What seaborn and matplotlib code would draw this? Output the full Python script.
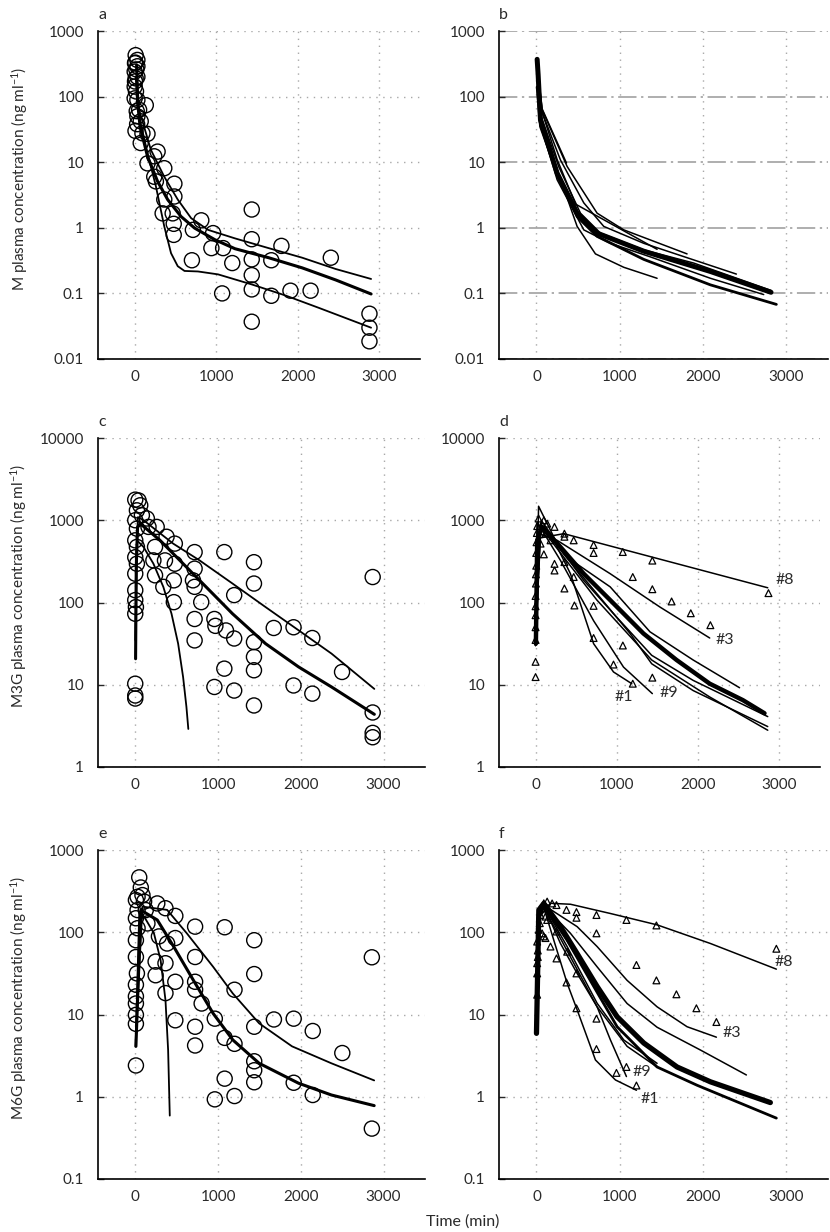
import matplotlib
matplotlib.use("Agg")
import matplotlib.pyplot as plt
import seaborn as sns

# ---------------- panel a : morphine, observed + percentiles
a_obs_t = [12, 33, 4, 33, 0, 33, 12, 0, 0, 33, 136, 54, 33, 74, 95, 157, 74, 157, 281, 240,
           363, 240, 260, 487, 363, 487, 343, 466, 479, 479, 714, 817, 702, 962, 941, 1085,
           1197, 1073, 1436, 1436, 1436, 1436, 1436, 1436, 1676, 1676, 1800, 1911, 2158, 2406,
           2880, 2880, 2880, 8, 20, 4, 16, 25, 30, 10]
a_obs_c = [428, 362, 323, 290, 240, 200, 190, 142, 94, 89, 74, 63, 50, 42, 27.6, 27, 19.6, 9.6,
           14.5, 12.3, 8.1, 6.0, 5.1, 4.7, 2.7, 3.0, 1.66, 1.66, 1.15, 0.78, 0.93, 1.3, 0.32,
           0.83, 0.49, 0.49, 0.29, 0.1, 1.9, 0.67, 0.33, 0.19, 0.115, 0.037, 0.32, 0.092, 0.53,
           0.11, 0.11, 0.35, 0.049, 0.030, 0.0186, 330, 260, 170, 120, 60, 38, 30]
a_med_t = [25, 33, 66, 157, 281, 404, 570, 735, 982, 1230, 1643, 2055, 2468, 2900]
a_med_c = [303, 89, 35, 12.3, 5.1, 2.7, 1.48, 0.99, 0.66, 0.48, 0.35, 0.245, 0.16, 0.098]
a_hi_t = [20, 54, 198, 363, 528, 693, 900, 1230, 1643, 2055, 2468, 2900]
a_hi_c = [300, 63, 15.5, 6.0, 2.7, 1.4, 0.93, 0.69, 0.49, 0.35, 0.235, 0.166]
a_lo_t = [12, 54, 157, 260, 363, 446, 528, 611, 776, 1023, 1436, 1849, 2262, 2900]
a_lo_c = [200, 50, 13.8, 4.3, 1.05, 0.41, 0.26, 0.22, 0.216, 0.195, 0.137, 0.093, 0.06, 0.030]

# ---------------- panel b : morphine, individual fits
b1_t = [8, 68, 360]
b1_c = [300, 65, 9.7]
b2_t = [8, 56, 248, 468, 1448]
b2_c = [340, 65, 11, 2.3, 0.47]
b3_t = [8, 68, 368, 728, 1048, 1808]
b3_c = [286, 63, 8.6, 1.67, 0.93, 0.40]
b4_t = [8, 56, 288, 568, 808, 1288, 2400]
b4_c = [302, 63, 10.8, 2.4, 1.05, 0.58, 0.197]
b5_t = [8, 48, 208, 488, 708, 1048, 1448]
b5_c = [200, 50, 10.8, 1.05, 0.40, 0.25, 0.17]
b6_t = [8, 48, 248, 488, 728, 1288, 2088, 2880]
b6_c = [141, 35, 6.8, 1.48, 0.74, 0.33, 0.135, 0.068]
b7_t = [8, 56, 268, 528, 768, 1288, 1888, 2816]
b7_c = [256, 50, 8.5, 1.67, 0.83, 0.46, 0.29, 0.111]
b8_t = [8, 56, 248, 568, 888, 1368, 2088, 2728]
b8_c = [178, 35, 5.4, 0.93, 0.58, 0.36, 0.17, 0.096]
b_med_t = [8, 20, 48, 248, 488, 728, 1288, 2088, 2816]
b_med_c = [370, 214, 44, 6.8, 1.67, 0.83, 0.44, 0.216, 0.104]

# ---------------- panel c : M3G, observed + percentiles
c_obs_t = [0, 40, 60, 20, 80, 140, 0, 20, 160, 0, 20, 0, 20, 0, 0, 0, 8, 0, 0, 0, 0,
           259, 239, 219, 239, 359, 378, 339, 478, 478, 466, 466, 717, 717, 697, 717, 717, 717,
           797, 956, 968, 956, 1076, 1076, 1096, 1195, 1195, 1195, 1434, 1434, 1434, 1434,
           1434, 1434, 1673, 1912, 1912, 2139, 2139, 2498, 2868, 2868, 2868, 2868]
c_obs_c = [1780, 1740, 1520, 1320, 1150, 1050, 1000, 790, 830, 570, 474, 355, 296, 224, 141,
           107, 88, 73, 10.3, 7.4, 6.8,
           830, 474, 325, 214, 325, 630, 155, 520, 296, 186, 101, 410, 258, 186, 155, 63, 34.6,
           101, 63, 52, 9.4, 410, 15.7, 45.7, 123, 36.5, 8.5, 309, 170, 33, 21.8, 15, 5.6,
           49, 50, 9.8, 37, 7.8, 14.3, 204, 4.6, 2.6, 2.3]
c_med_t = [4, 12, 28, 60, 299, 618, 936, 1175, 1574, 1972, 2371, 2888]
c_med_c = [20.7, 270, 830, 910, 570, 270, 128, 73, 31.6, 16.5, 9.4, 4.37]
c_hi_t = [8, 16, 32, 100, 458, 777, 1175, 1574, 1972, 2371, 2888]
c_hi_c = [31.6, 430, 1090, 1000, 520, 325, 170, 88, 46, 23.9, 8.9]
c_lo_t = [0, 20, 100, 219, 339, 438, 518, 578, 618, 641]
c_lo_c = [35, 570, 473, 297, 155, 73, 31.6, 12.4, 5.4, 2.9]

# ---------------- panel d : M3G, individual fits
d8_t = [0, 20, 347, 2857]
d8_c = [30, 600, 687, 151]
d3_t = [0, 20, 265, 918, 1531, 2143]
d3_c = [30, 700, 570, 224, 88, 37]
d1_t = [0, 20, 184, 429, 714, 959, 1184]
d1_c = [30, 900, 687, 224, 31.6, 14.3, 10.3]
d9_t = [0, 20, 306, 714, 1082, 1437]
d9_c = [30, 950, 325, 60, 16.4, 7.8]
dA_t = [4, 37, 265, 592, 1000, 1429, 1939, 2857]
dA_c = [42, 1480, 519, 186, 66, 22.8, 11.3, 4.1]
dB_t = [4, 69, 388, 918, 1408, 1939, 2510]
dB_c = [42, 1000, 355, 155, 44, 20, 9.2]
dC_t = [4, 61, 347, 755, 1163, 1429, 1939, 2857]
dC_c = [42, 910, 386, 128, 42, 18, 8.5, 3.1]
dD_t = [4, 61, 347, 755, 1429, 2143, 2857]
dD_c = [42, 830, 355, 107, 20, 7.1, 2.8]
d_med_t = [4, 20, 82, 306, 592, 918, 1327, 1735, 2143, 2551, 2817]
d_med_c = [31.6, 570, 830, 473, 224, 107, 42, 20, 10.3, 6.5, 4.5]

d_obs_t = [0, 0, 0, 0, 0, 0, 0, 4, 4, 8, 8, 12, 16, 20,
           37, 102, 143, 233, 122, 184, 61, 102, 233, 355, 355,
           355, 469, 714, 1073, 1437, 2866,
           714, 1196, 1437, 1674, 1910, 2151,
           233, 355, 478, 714, 959, 1196,
           469, 714, 1074, 1437]
d_obs_c = [12.4, 19, 35, 50, 70, 90, 120, 170, 220, 280, 400, 540, 700, 850,
           1050, 1000, 910, 830, 690, 570, 520, 385, 295, 630, 310,
           687, 570, 500, 411, 323, 130,
           400, 204, 145, 103, 74, 53,
           245, 148, 92, 37, 17.6, 10.3,
           204, 91, 30, 12.2]
d_lab = ["#8", "#3", "#1", "#9"]
d_lab_t = [2959, 2216, 967, 1523]
d_lab_c = [186, 34.8, 7.1, 7.95]

# ---------------- panel e : M6G, observed + percentiles
e_obs_t = [48, 67, 28, 87, 8, 107, 28, 127, 8, 28, 8, 8, 20, 8, 8, 8, 8, 8, 8,
           147, 266, 286, 365, 484, 385, 246, 246, 365, 365, 484, 484, 484,
           723, 723, 723, 723, 802, 723, 723, 961, 961, 1080, 1080, 1080, 1199, 1199, 1199,
           1437, 1437, 1437, 1437, 1437, 1437, 1675, 1914, 1914, 2144, 2144, 2501, 2858, 2858]
e_obs_c = [465, 350, 270, 283, 246, 236, 186, 186, 148, 112, 80, 50, 31.6, 23, 16.6, 13.6,
           9.9, 7.7, 2.4,
           128, 224, 89, 196, 158, 73, 44, 30, 42, 18.2, 85, 25, 8.5,
           117, 50, 25, 20, 13.6, 7.1, 4.2, 8.9, 0.93, 115, 5.2, 1.66, 20, 4.4, 1.02,
           80, 31, 7.1, 2.7, 2.1, 1.5, 8.7, 8.9, 1.48, 6.3, 1.05, 3.4, 49.6, 0.41]
e_med_t = [8, 67, 266, 464, 703, 941, 1179, 1497, 1973, 2370, 2886]
e_med_c = [4.1, 186, 141, 67, 26, 10.3, 4.9, 2.55, 1.46, 1.05, 0.78]
e_hi_t = [8, 87, 385, 623, 941, 1179, 1497, 1894, 2370, 2886]
e_hi_c = [6, 205, 187, 97, 38, 18, 7.8, 4.1, 2.55, 1.58]
e_lo_t = [4, 48, 107, 226, 306, 365, 397, 417]
e_lo_c = [4.1, 170, 155, 97, 46, 15, 3.7, 0.59]

# ---------------- panel f : M6G, individual fits
f8_t = [0, 30, 168, 408, 888, 1448, 2088, 2880]
f8_c = [6, 150, 225, 219, 169, 123, 73, 35.6]
f3_t = [0, 30, 100, 488, 728, 1088, 1448, 1808, 2160]
f3_c = [6, 150, 210, 117, 67, 26, 12.4, 7.1, 5.3]
f1_t = [0, 30, 88, 208, 368, 488, 708, 948, 1200]
f1_c = [6, 150, 200, 80, 24, 11.4, 2.8, 1.6, 1.2]
f9_t = [0, 30, 88, 288, 488, 728, 888, 1080]
f9_c = [6, 150, 210, 73, 31.6, 12.4, 4.9, 1.76]
fA_t = [0, 30, 88, 408, 728, 1088, 1448, 1968, 2520]
fA_c = [6, 150, 210, 97, 38, 13.6, 7.0, 3.7, 1.84]
fB_t = [0, 30, 88, 368, 688, 968, 1448, 1928, 2880]
fB_c = [6, 150, 210, 80, 21.9, 7.1, 2.3, 1.38, 0.55]
fC_t = [0, 30, 88, 368, 728, 1048, 1448]
fC_c = [6, 150, 210, 67, 13.7, 4.9, 2.55]
fD_t = [0, 30, 88, 408, 728, 1088, 1448]
fD_c = [6, 150, 200, 50, 12.4, 4.1, 2.3]
f_med_t = [0, 28, 88, 288, 488, 728, 968, 1288, 1688, 2088, 2488, 2808]
f_med_c = [5.9, 186, 224, 117, 55, 21.9, 9.4, 4.5, 2.3, 1.52, 1.1, 0.85]

f_obs_t = [8, 8, 8, 16, 16, 8, 28, 40, 48, 68, 88, 128, 188, 108, 128, 68, 88, 108,
           240, 360, 480, 480, 720, 1080, 1440, 2880,
           720, 1200, 1440, 1680, 1920, 2160,
           168, 240, 360, 480, 720, 960, 1200,
           240, 368, 480, 720, 1080]
f_obs_c = [17.4, 31.6, 42, 50, 60, 77, 107, 129, 162, 195, 225, 236, 224, 155, 141, 97, 89, 85,
           214, 187, 176, 150, 162, 141, 121, 63,
           97, 40, 26, 17.6, 11.9, 8.1,
           67, 48, 24.5, 11.9, 3.8, 1.95, 1.37,
           102, 58, 31.6, 8.9, 2.3]
f_lab = ["#8", "#3", "#9", "#1"]
f_lab_t = [2860, 2240, 1148, 1248]
f_lab_c = [43, 5.9, 2.0, 0.93]

# ---------------- style
sns.set_theme(style="white")
plt.rcParams["font.family"] = ["Lato", "DejaVu Sans"]
plt.rcParams["mathtext.fontset"] = "custom"
plt.rcParams["mathtext.rm"] = "Lato"
plt.rcParams["mathtext.it"] = "Lato:italic"

TXT = "#2a2a2a"
GRID = "#a8a8a8"

fig = plt.figure(figsize=(8.3, 12.32), dpi=100)
W, H = 830, 1232


def make_ax(left, top, right, bottom):
    return fig.add_axes([left / W, 1 - bottom / H, (right - left) / W, (bottom - top) / H])


def style_ax(ax, ymin, ymax, label, ylabel=None, dashdot=False):
    ax.set_yscale("log")
    ax.set_xlim(-450, 3500)
    ax.set_ylim(ymin, ymax)
    decs = []
    v = ymin
    while v <= ymax * 1.001:
        decs.append(v)
        v *= 10
    ax.set_yticks(decs)
    ax.set_yticklabels([f"{d:g}" for d in decs])
    ax.minorticks_off()
    ax.set_xticks([0, 1000, 2000, 3000])
    ax.set_xticklabels(["0", "1000", "2000", "3000"])
    for s in ["top", "right"]:
        ax.spines[s].set_visible(False)
    for s in ["left", "bottom"]:
        ax.spines[s].set_color("black")
        ax.spines[s].set_linewidth(1.2)
    ax.tick_params(axis="y", direction="in", length=4, width=1, pad=10,
                   labelsize=11, labelcolor=TXT, left=True)
    ax.tick_params(axis="x", length=0, pad=8, labelsize=11, labelcolor=TXT)
    ax.xaxis.grid(True, color=GRID, linestyle=(0, (1, 4)), linewidth=1)
    if dashdot:
        ax.yaxis.grid(True, color="#999999", linestyle=(0, (12, 3, 1.5, 3)), linewidth=1.1)
    else:
        ax.yaxis.grid(True, color=GRID, linestyle=(0, (1, 4)), linewidth=1)
    ax.set_axisbelow(True)
    ax.text(0, 1 + 16 / ((ax.get_position().height) * H), label, transform=ax.transAxes,
            ha="left", va="center", fontsize=11.5, color=TXT)
    if ylabel:
        ax.set_ylabel(ylabel, fontsize=11, color=TXT)
        ax.yaxis.set_label_coords(-0.21, 0.55)


def line(ax, t, c, lw):
    sns.lineplot(x=t, y=c, ax=ax, color="black", linewidth=lw, sort=False,
                 estimator=None, legend=False)


def circles(ax, t, c):
    sns.scatterplot(x=t, y=c, ax=ax, marker="o", s=118, facecolor="none",
                    edgecolor="black", linewidth=1.0, zorder=3, legend=False)


def triangles(ax, t, c):
    sns.scatterplot(x=t, y=c, ax=ax, marker="^", s=24, facecolor="none",
                    edgecolor="black", linewidth=0.9, zorder=3, legend=False)


ax_a = make_ax(98, 31, 420, 359)
ax_b = make_ax(499, 31, 828, 359)
ax_c = make_ax(98, 438, 425, 767)
ax_d = make_ax(499, 438, 820, 767)
ax_e = make_ax(98, 850, 425, 1179)
ax_f = make_ax(499, 850, 828, 1179)

style_ax(ax_a, 0.01, 1000, "a", r"M plasma concentration (ng ml$^{-1}$)")
style_ax(ax_b, 0.01, 1000, "b", dashdot=True)
style_ax(ax_c, 1, 10000, "c", r"M3G plasma concentration (ng ml$^{-1}$)")
style_ax(ax_d, 1, 10000, "d")
style_ax(ax_e, 0.1, 1000, "e", r"M6G plasma concentration (ng ml$^{-1}$)")
style_ax(ax_f, 0.1, 1000, "f")

# a
circles(ax_a, a_obs_t, a_obs_c)
line(ax_a, a_hi_t, a_hi_c, 1.3)
line(ax_a, a_lo_t, a_lo_c, 1.3)
line(ax_a, a_med_t, a_med_c, 2.2)

# b
for t, c in [(b1_t, b1_c), (b2_t, b2_c), (b3_t, b3_c), (b4_t, b4_c), (b5_t, b5_c),
             (b7_t, b7_c), (b8_t, b8_c)]:
    line(ax_b, t, c, 1.1)
line(ax_b, b6_t, b6_c, 2.0)
line(ax_b, b_med_t, b_med_c, 3.6)

# c
circles(ax_c, c_obs_t, c_obs_c)
line(ax_c, c_hi_t, c_hi_c, 1.3)
line(ax_c, c_lo_t, c_lo_c, 1.3)
line(ax_c, c_med_t, c_med_c, 2.2)

# d
for t, c in [(d8_t, d8_c), (d3_t, d3_c), (d1_t, d1_c), (d9_t, d9_c), (dA_t, dA_c),
             (dB_t, dB_c), (dC_t, dC_c), (dD_t, dD_c)]:
    line(ax_d, t, c, 1.1)
line(ax_d, d_med_t, d_med_c, 3.2)
triangles(ax_d, d_obs_t, d_obs_c)
for s, t, c in zip(d_lab, d_lab_t, d_lab_c):
    ax_d.text(t, c, s, ha="left", va="center", fontsize=11.5, color=TXT)

# e
circles(ax_e, e_obs_t, e_obs_c)
line(ax_e, e_hi_t, e_hi_c, 1.3)
line(ax_e, e_lo_t, e_lo_c, 1.3)
line(ax_e, e_med_t, e_med_c, 2.2)

# f
for t, c in [(f8_t, f8_c), (f3_t, f3_c), (f1_t, f1_c), (f9_t, f9_c), (fA_t, fA_c),
             (fC_t, fC_c), (fD_t, fD_c)]:
    line(ax_f, t, c, 1.1)
line(ax_f, fB_t, fB_c, 2.0)
line(ax_f, f_med_t, f_med_c, 3.8)
triangles(ax_f, f_obs_t, f_obs_c)
for s, t, c in zip(f_lab, f_lab_t, f_lab_c):
    ax_f.text(t, c, s, ha="left", va="center", fontsize=11.5, color=TXT)

for ax in [ax_a, ax_b, ax_c, ax_d, ax_e, ax_f]:
    ax.set_xlabel("")
    ax.set_xlim(-450, 3500)

fig.text(463 / W, 1 - 1222 / H, "Time (min)", ha="center", va="center",
         fontsize=11.5, color=TXT)

fig.savefig("out.png", dpi=100, facecolor="white")
